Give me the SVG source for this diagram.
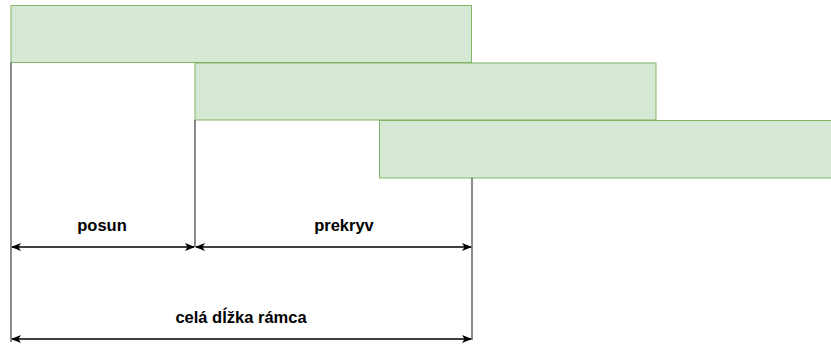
<svg xmlns="http://www.w3.org/2000/svg" width="831" height="347" viewBox="0 0 831 347">
<style>
.blk{fill:#d5e8d4;stroke:#82b366;stroke-width:1}
.v{stroke:#4d4d4d;stroke-width:1.3;fill:none}
.a{stroke:#000;stroke-width:1.3;fill:none;marker-start:url(#ah);marker-end:url(#ah)}
.t{font-family:"Liberation Sans",Arial,sans-serif;font-weight:bold;font-size:16.5px;fill:#000;text-anchor:middle}
</style>
<defs>
<marker id="ah" viewBox="0 0 10 10" refX="9" refY="5" markerWidth="10" markerHeight="10" markerUnits="userSpaceOnUse" orient="auto-start-reverse">
<path d="M0,1 L10,5 L0,9 L2.5,5 Z" fill="#000"/>
</marker>
</defs>
<g id="frame1"><rect class="blk" x="11" y="5.5" width="460.5" height="57"/></g>
<g id="frame2"><rect class="blk" x="195" y="63" width="461" height="57"/></g>
<g id="frame3"><rect class="blk" x="379.5" y="120.5" width="460" height="57.5"/></g>
<g id="connectors">
<line class="v" x1="11" y1="62.5" x2="11" y2="342"/>
<line class="v" x1="195" y1="120" x2="195" y2="247"/>
<line class="v" x1="472" y1="178" x2="472" y2="340"/>
<line class="a" x1="12" y1="247" x2="194" y2="247"/>
<line class="a" x1="196" y1="247" x2="471" y2="247"/>
<line class="a" x1="12" y1="339" x2="471" y2="339"/>
</g>
<g id="labels">
<text class="t" x="102" y="231">posun</text>
<text class="t" x="344" y="231">prekryv</text>
<text class="t" x="241" y="323">celá dĺžka rámca</text>
</g>
</svg>
